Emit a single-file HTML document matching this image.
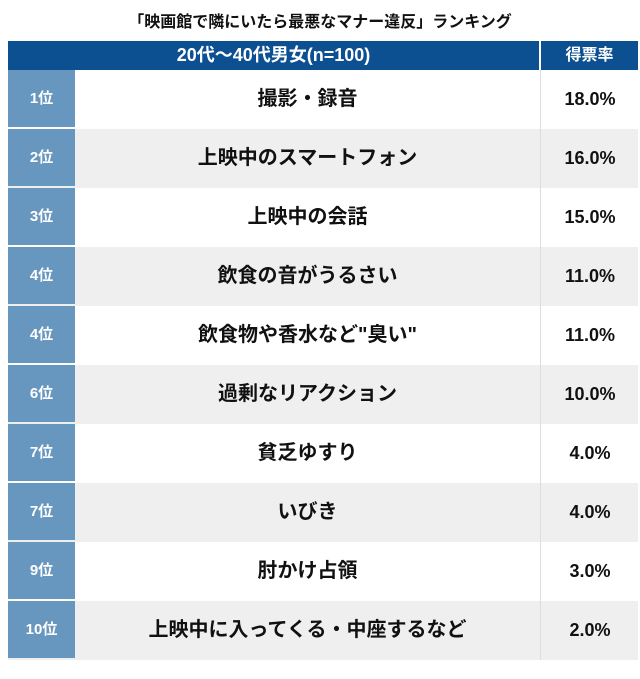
<!DOCTYPE html>
<html><head><meta charset="utf-8"><style>
body{margin:0;width:640px;height:679px;background:#fff;font-family:"Liberation Sans","Noto Sans CJK JP",sans-serif;font-weight:bold;position:relative;overflow:hidden}
.title{position:absolute;top:8px;left:0;width:640px;text-align:center;font-size:16px;color:#111}
.hdr{position:absolute;top:41px;height:29px;background:#0d5092;color:#fff;font-size:18px;line-height:29px;text-align:center}
.row{position:absolute;left:8px;width:630px;height:59px}
.rk{position:absolute;left:0;top:0;width:67px;height:57px;background:#6797bf;color:#fff;font-size:15px;line-height:57px;text-align:center}
.nm{position:absolute;left:67px;width:465px;top:0;height:59px;line-height:59px;text-align:center;font-size:20px;color:#111}
.pc{position:absolute;left:532px;width:98px;top:0;height:59px;line-height:59px;text-align:center;font-size:18px;color:#111;border-left:1px solid #ddd}
.g{background:#efefef}
</style></head><body>
<div class="title">「映画館で隣にいたら最悪なマナー違反」ランキング</div>
<div class="hdr" style="left:8px;width:531px">20代～40代男女(n=100)</div>
<div class="hdr" style="left:541px;width:97px;font-size:16px">得票率</div>
<div class="row" style="top:70px"><div class="rk">1位</div><div class="nm">撮影・録音</div><div class="pc">18.0%</div></div>
<div class="row g" style="top:129px"><div class="rk">2位</div><div class="nm">上映中のスマートフォン</div><div class="pc">16.0%</div></div>
<div class="row" style="top:188px"><div class="rk">3位</div><div class="nm">上映中の会話</div><div class="pc">15.0%</div></div>
<div class="row g" style="top:247px"><div class="rk">4位</div><div class="nm">飲食の音がうるさい</div><div class="pc">11.0%</div></div>
<div class="row" style="top:306px"><div class="rk">4位</div><div class="nm">飲食物や香水など"臭い"</div><div class="pc">11.0%</div></div>
<div class="row g" style="top:365px"><div class="rk">6位</div><div class="nm">過剰なリアクション</div><div class="pc">10.0%</div></div>
<div class="row" style="top:424px"><div class="rk">7位</div><div class="nm">貧乏ゆすり</div><div class="pc">4.0%</div></div>
<div class="row g" style="top:483px"><div class="rk">7位</div><div class="nm">いびき</div><div class="pc">4.0%</div></div>
<div class="row" style="top:542px"><div class="rk">9位</div><div class="nm">肘かけ占領</div><div class="pc">3.0%</div></div>
<div class="row g" style="top:601px"><div class="rk">10位</div><div class="nm">上映中に入ってくる・中座するなど</div><div class="pc">2.0%</div></div>
</body></html>
